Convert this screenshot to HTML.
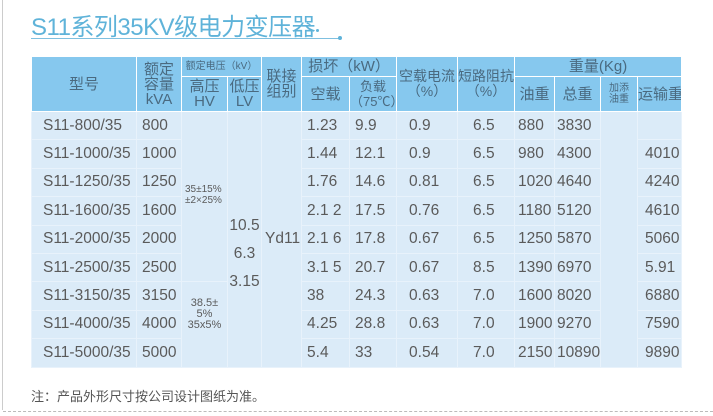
<!DOCTYPE html>
<html><head><meta charset="utf-8"><style>
body{margin:0;width:713px;height:416px;background:#fff;position:relative;overflow:hidden;font-family:"Liberation Sans","Noto Sans CJK SC",sans-serif;color:#5a5a5a}
.a{position:absolute}
table{position:absolute;left:31px;top:56px;border-collapse:collapse;table-layout:fixed;width:650px}
td{border:1.5px solid #fff;padding:0;text-align:center;font-size:15px;white-space:nowrap;overflow:hidden}
thead td{background:#86c8ee;color:#4a6a80;font-size:15px;line-height:15px}
tbody td{background:#dbebf8;height:27.4px;border-color:#e8f2fb;text-align:left;padding-left:5px;font-size:15.5px}
tbody td.c{text-align:center;padding-left:0}
.l{padding-left:11px!important}
</style></head><body>
<div class="a" style="left:2px;top:0;width:1px;height:410px;background:#ccc"></div>
<div class="a" style="left:31px;top:7px;font-size:24px;color:#5fb3d9;letter-spacing:-0.5px">S11系列35KV级电力变压器</div>
<div class="a" style="left:316px;top:29px;width:3px;height:3px;border-radius:2px;background:#5fb3d9"></div>
<div class="a" style="left:31px;top:38px;width:308px;height:1px;background:#7fc0e0"></div>
<div class="a" style="left:338px;top:36px;width:4px;height:4px;border-radius:2px;background:#5fb3d9"></div>
<table>
<colgroup><col style="width:105px"><col style="width:45px"><col style="width:46px"><col style="width:34px"><col style="width:40px"><col style="width:48px"><col style="width:47px"><col style="width:61px"><col style="width:57px"><col style="width:40px"><col style="width:46px"><col style="width:37px"><col style="width:44px"></colgroup>
<thead>
<tr style="height:20px"><td rowspan="2" style="font-size:15px">型号</td><td rowspan="2" style="line-height:15px">额定<br>容量<br>kVA</td><td colspan="2" style="font-size:10px">额定电压（kV）</td><td rowspan="2">联接<br>组别</td><td colspan="2" style="font-size:15px">损坏（kW）</td><td rowspan="2" style="font-size:14px">空载电流<br>（%）</td><td rowspan="2" style="font-size:14px">短路阻抗<br>（%）</td><td colspan="4">重量(Kg)</td></tr>
<tr style="height:35px"><td style="font-size:15px">高压<br>HV</td><td style="font-size:15px">低压<br>LV</td><td style="font-size:15px">空载</td><td style="font-size:13px">负载<br>（75℃）</td><td>油重</td><td>总重</td><td style="font-size:10px;line-height:11px">加添<br>油重</td><td>运输重</td></tr>
</thead>
<tbody>
<tr><td class="l">S11-800/35</td><td>800</td><td rowspan="6" style="font-size:10px;line-height:11px;vertical-align:top;padding-top:72px;padding-left:3px">35±15%<br>±2×25%</td><td rowspan="9" class="c" style="line-height:28px;padding-top:30px">10.5<br>6.3<br>3.15</td><td rowspan="9" style="padding-left:3px">Yd11</td><td>1.23</td><td>9.9</td><td style="padding-left:12px">0.9</td><td style="padding-left:15px">6.5</td><td style="padding-left:3px">880</td><td style="padding-left:2px">3830</td><td rowspan="9"></td><td></td></tr>
<tr><td class="l">S11-1000/35</td><td>1000</td><td>1.44</td><td>12.1</td><td style="padding-left:12px">0.9</td><td style="padding-left:15px">6.5</td><td style="padding-left:3px">980</td><td style="padding-left:2px">4300</td><td style="padding-left:7px">4010</td></tr>
<tr><td class="l">S11-1250/35</td><td>1250</td><td>1.76</td><td>14.6</td><td style="padding-left:12px">0.81</td><td style="padding-left:15px">6.5</td><td style="padding-left:3px">1020</td><td style="padding-left:2px">4640</td><td style="padding-left:7px">4240</td></tr>
<tr><td class="l">S11-1600/35</td><td>1600</td><td>2.1 2</td><td>17.5</td><td style="padding-left:12px">0.76</td><td style="padding-left:15px">6.5</td><td style="padding-left:3px">1180</td><td style="padding-left:2px">5120</td><td style="padding-left:7px">4610</td></tr>
<tr><td class="l">S11-2000/35</td><td>2000</td><td>2.1 6</td><td>17.8</td><td style="padding-left:12px">0.67</td><td style="padding-left:15px">6.5</td><td style="padding-left:3px">1250</td><td style="padding-left:2px">5870</td><td style="padding-left:7px">5060</td></tr>
<tr><td class="l">S11-2500/35</td><td>2500</td><td>3.1 5</td><td>20.7</td><td style="padding-left:12px">0.67</td><td style="padding-left:15px">8.5</td><td style="padding-left:3px">1390</td><td style="padding-left:2px">6970</td><td style="padding-left:7px">5.91</td></tr>
<tr><td class="l">S11-3150/35</td><td>3150</td><td rowspan="3" class="c" style="font-size:11px;line-height:11px;padding-bottom:20px">38.5±<br>5%<br>35x5%</td><td>38</td><td>24.3</td><td style="padding-left:12px">0.63</td><td style="padding-left:15px">7.0</td><td style="padding-left:3px">1600</td><td style="padding-left:2px">8020</td><td style="padding-left:7px">6880</td></tr>
<tr><td class="l">S11-4000/35</td><td>4000</td><td>4.25</td><td>28.8</td><td style="padding-left:12px">0.63</td><td style="padding-left:15px">7.0</td><td style="padding-left:3px">1900</td><td style="padding-left:2px">9270</td><td style="padding-left:7px">7590</td></tr>
<tr><td class="l">S11-5000/35</td><td>5000</td><td>5.4</td><td>33</td><td style="padding-left:12px">0.54</td><td style="padding-left:15px">7.0</td><td style="padding-left:3px">2150</td><td style="padding-left:2px">10890</td><td style="padding-left:7px">9890</td></tr>
</tbody></table>
<div class="a" style="left:31px;top:386px;font-size:13px;color:#555">注：产品外形尺寸按公司设计图纸为准。</div>
<div class="a" style="left:3px;top:411px;width:710px;border-top:1px dashed #bbb"></div>
</body></html>
